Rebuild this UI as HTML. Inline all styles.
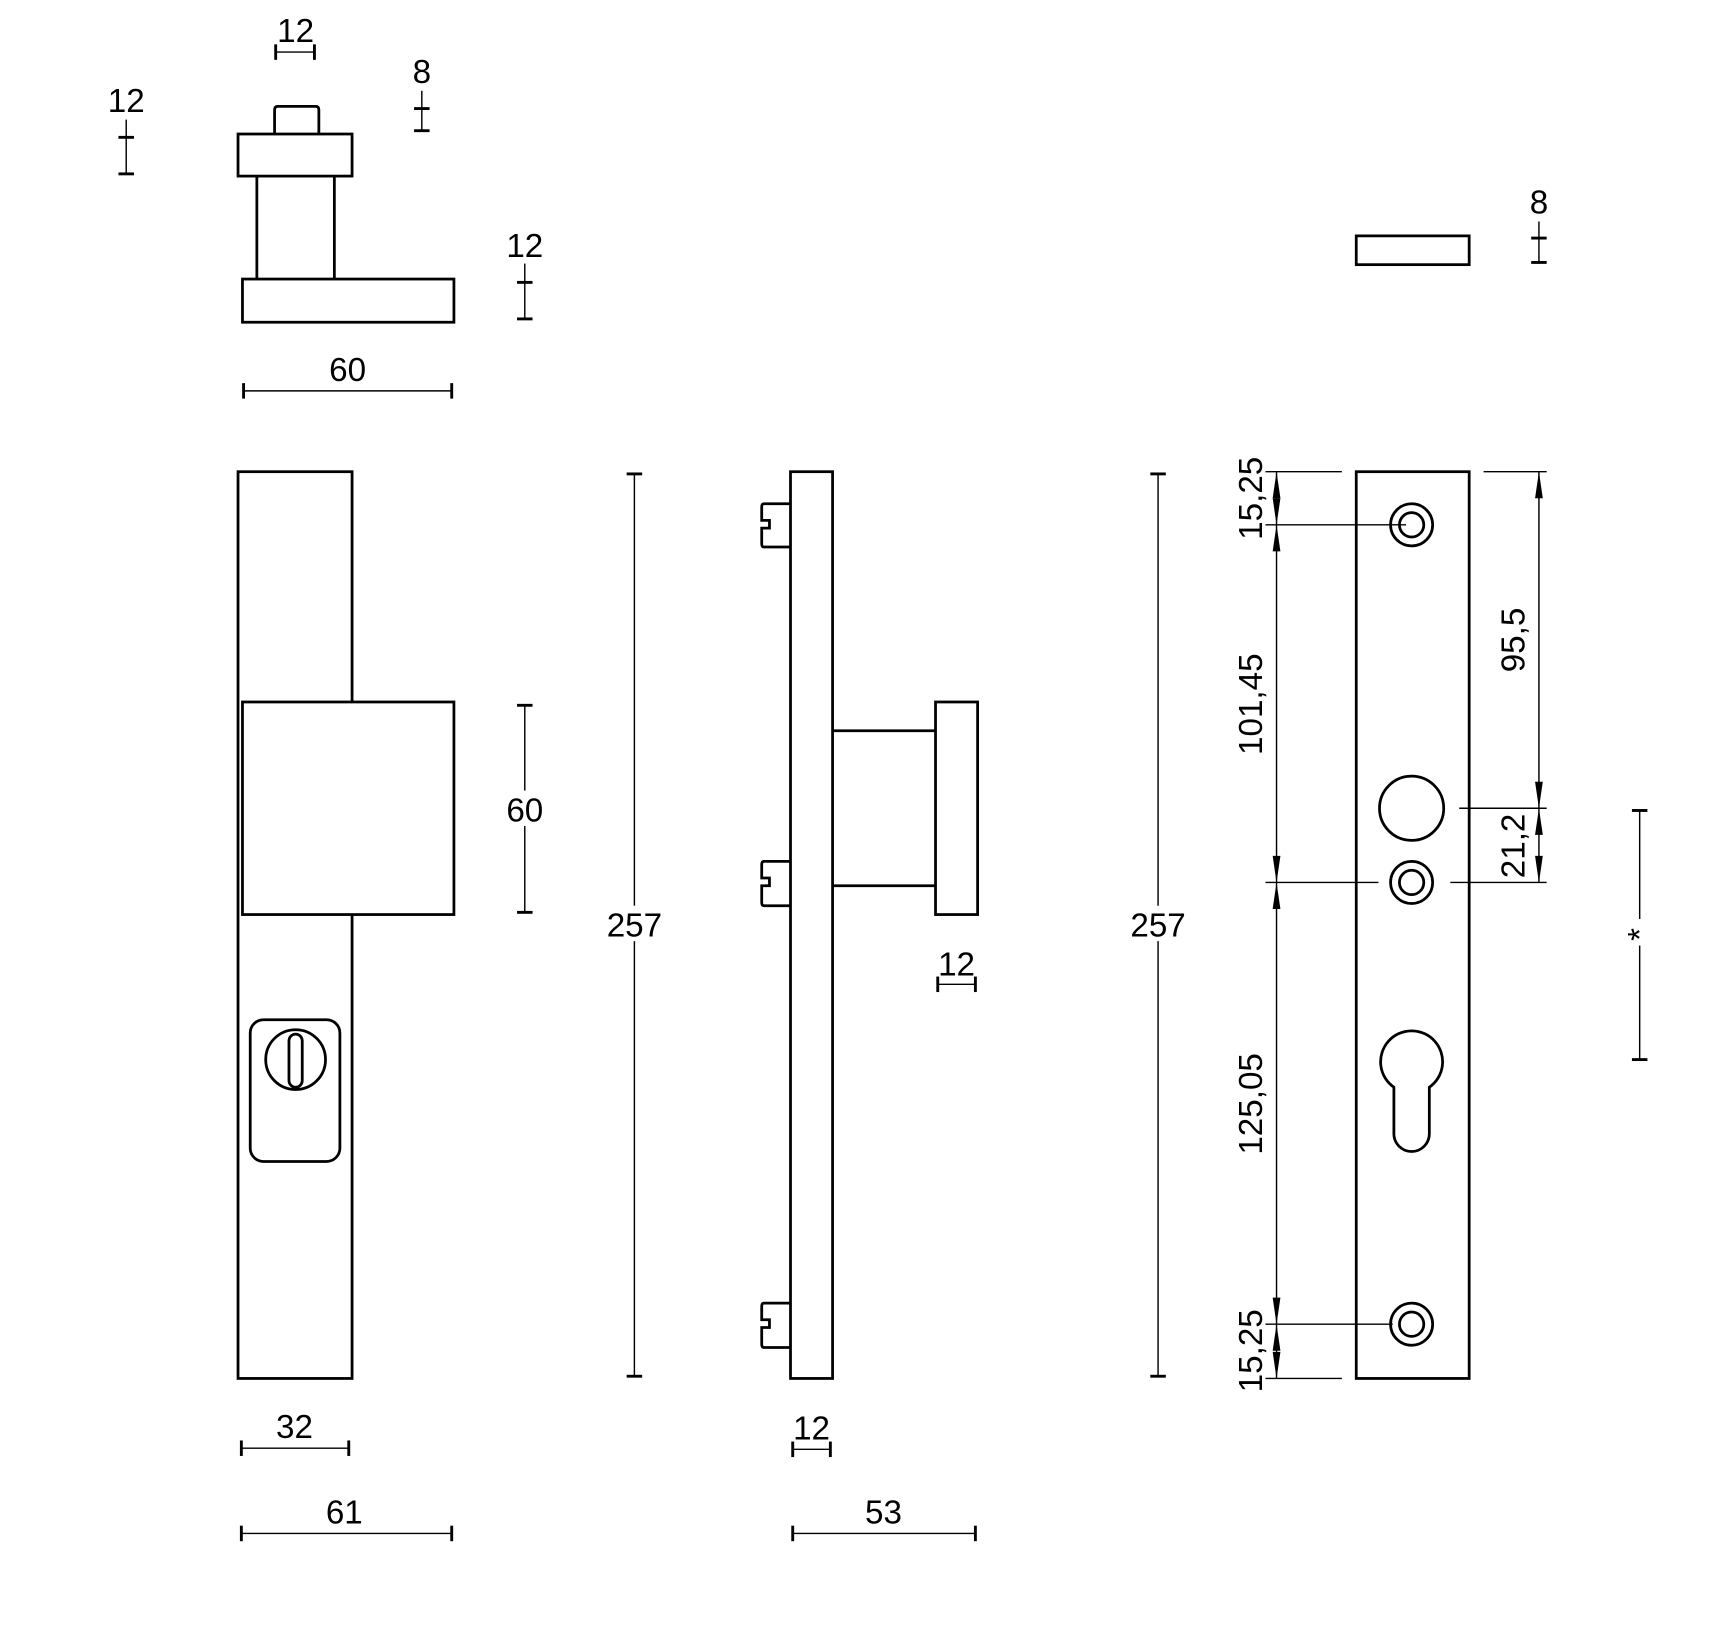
<!DOCTYPE html>
<html><head><meta charset="utf-8"><style>
html,body{margin:0;padding:0;background:#fff}
svg{display:block}
text{font-family:"Liberation Sans",sans-serif;font-size:30px;fill:#000;text-anchor:middle}
.o{fill:none;stroke:#000;stroke-width:2.5}
.w{fill:#fff;stroke:#000;stroke-width:2.5}
.d{fill:none;stroke:#000;stroke-width:1.3}
.t{stroke:#000;stroke-width:2.6}
</style></head><body>
<svg width="1736" height="1642" viewBox="0 0 1568 1483" xmlns="http://www.w3.org/2000/svg">
<defs>
<path id="au" d="M0,0 L-3.5,24 L3.5,24 Z"/>
<path id="ad" d="M0,0 L-3.5,-24 L3.5,-24 Z"/>
</defs>
<path class="o" d="M248,121 V99 Q248,96 251,96 H285 Q288,96 288,99 V121"/>
<rect class="o" x="215" y="121" width="103" height="38"/>
<line class="o" x1="232" y1="159" x2="232" y2="252"/>
<line class="o" x1="302" y1="159" x2="302" y2="252"/>
<rect class="o" x="219" y="252" width="191" height="39"/>
<text x="267" y="38">12</text>
<line class="d" x1="249" y1="47" x2="284" y2="47"/>
<line class="t" x1="249" y1="40" x2="249" y2="54"/><line class="t" x1="284" y1="40" x2="284" y2="54"/>
<text x="381" y="75">8</text>
<line class="d" x1="381" y1="82" x2="381" y2="118"/>
<line class="t" x1="374" y1="98" x2="388" y2="98"/><line class="t" x1="374" y1="118" x2="388" y2="118"/>
<text x="114" y="101">12</text>
<line class="d" x1="114" y1="108" x2="114" y2="157"/>
<line class="t" x1="107" y1="124" x2="121" y2="124"/><line class="t" x1="107" y1="157" x2="121" y2="157"/>
<text x="474" y="232">12</text>
<line class="d" x1="474" y1="238" x2="474" y2="288"/>
<line class="t" x1="467" y1="255" x2="481" y2="255"/><line class="t" x1="467" y1="288" x2="481" y2="288"/>
<text x="314" y="344">60</text>
<line class="d" x1="220" y1="353" x2="408" y2="353"/>
<line class="t" x1="220" y1="346" x2="220" y2="360"/><line class="t" x1="408" y1="346" x2="408" y2="360"/>

<rect class="o" x="215" y="426" width="103" height="819"/>
<rect class="w" x="219" y="634" width="191" height="192"/>
<rect class="o" x="226" y="921" width="81" height="128" rx="12"/>
<circle class="o" cx="267" cy="957" r="27"/>
<rect class="o" x="261" y="934" width="12" height="48" rx="6"/>
<line class="d" x1="474" y1="637" x2="474" y2="824"/>
<line class="t" x1="467" y1="637" x2="481" y2="637"/><line class="t" x1="467" y1="824" x2="481" y2="824"/>
<rect x="454" y="714" width="40" height="32" fill="#fff"/>
<text x="474" y="742">60</text>
<line class="d" x1="573" y1="428" x2="573" y2="1243"/>
<line class="t" x1="566" y1="428" x2="580" y2="428"/><line class="t" x1="566" y1="1243" x2="580" y2="1243"/>
<rect x="545" y="818" width="56" height="32" fill="#fff"/>
<text x="573" y="846">257</text>
<text x="266" y="1299">32</text>
<line class="d" x1="218" y1="1308" x2="315" y2="1308"/>
<line class="t" x1="218" y1="1301" x2="218" y2="1315"/><line class="t" x1="315" y1="1301" x2="315" y2="1315"/>
<text x="311" y="1376">61</text>
<line class="d" x1="218" y1="1385" x2="408" y2="1385"/>
<line class="t" x1="218" y1="1378" x2="218" y2="1392"/><line class="t" x1="408" y1="1378" x2="408" y2="1392"/>

<rect class="o" x="714" y="426" width="38" height="819"/>
<path class="o" d="M714,455 H690 Q688,455 688,458 V470 H695 V477 H688 V491 Q688,494 690,494 H714"/>
<path class="o" d="M714,778 H690 Q688,778 688,781 V793 H695 V800 H688 V815 Q688,818 690,818 H714"/>
<path class="o" d="M714,1177 H690 Q688,1177 688,1180 V1192 H695 V1199 H688 V1214 Q688,1217 690,1217 H714"/>
<line class="o" x1="752" y1="660" x2="845" y2="660"/>
<line class="o" x1="752" y1="800" x2="845" y2="800"/>
<rect class="o" x="845" y="634" width="38" height="192"/>
<text x="864" y="881">12</text>
<line class="d" x1="847" y1="889" x2="881" y2="889"/>
<line class="t" x1="847" y1="882" x2="847" y2="896"/><line class="t" x1="881" y1="882" x2="881" y2="896"/>
<text x="733" y="1300">12</text>
<line class="d" x1="716" y1="1309" x2="750" y2="1309"/>
<line class="t" x1="716" y1="1302" x2="716" y2="1316"/><line class="t" x1="750" y1="1302" x2="750" y2="1316"/>
<text x="798" y="1376">53</text>
<line class="d" x1="716" y1="1385" x2="881" y2="1385"/>
<line class="t" x1="716" y1="1378" x2="716" y2="1392"/><line class="t" x1="881" y1="1378" x2="881" y2="1392"/>
<line class="d" x1="1046" y1="428" x2="1046" y2="1243"/>
<line class="t" x1="1039" y1="428" x2="1053" y2="428"/><line class="t" x1="1039" y1="1243" x2="1053" y2="1243"/>
<rect x="1018" y="818" width="56" height="32" fill="#fff"/>
<text x="1046" y="846">257</text>

<rect class="o" x="1225" y="213" width="102" height="26"/>
<text x="1390" y="193">8</text>
<line class="d" x1="1390" y1="200" x2="1390" y2="238"/>
<line class="t" x1="1383" y1="215" x2="1397" y2="215"/><line class="t" x1="1383" y1="237" x2="1397" y2="237"/>
<rect class="o" x="1225" y="426" width="102" height="819"/>
<circle class="o" cx="1275" cy="474" r="19"/><circle class="o" cx="1275" cy="474" r="11"/>
<circle class="o" cx="1275" cy="797" r="19"/><circle class="o" cx="1275" cy="797" r="11"/>
<circle class="o" cx="1275" cy="1196" r="19"/><circle class="o" cx="1275" cy="1196" r="11"/>
<circle class="o" cx="1275" cy="730" r="29"/>
<path class="o" d="M1259,982 A28,28 0 1 1 1291,982 V1024 A16,16 0 0 1 1259,1024 Z"/>
<line class="d" x1="1143" y1="426" x2="1212" y2="426"/>
<line class="d" x1="1143" y1="474" x2="1270" y2="474"/>
<line class="d" x1="1143" y1="797" x2="1245" y2="797"/>
<line class="d" x1="1143" y1="1196" x2="1258" y2="1196"/>
<line class="d" x1="1143" y1="1245" x2="1212" y2="1245"/>
<line class="d" x1="1153" y1="426" x2="1153" y2="1245"/>
<use href="#au" x="1153" y="426"/><use href="#ad" x="1153" y="474"/><use href="#au" x="1153" y="474"/>
<use href="#ad" x="1153" y="797"/><use href="#au" x="1153" y="797"/>
<use href="#ad" x="1153" y="1196"/><use href="#au" x="1153" y="1196"/><use href="#ad" x="1153" y="1245"/>
<text transform="translate(1140,450) rotate(-90)">15,25</text>
<text transform="translate(1140,636) rotate(-90)">101,45</text>
<text transform="translate(1140,997) rotate(-90)">125,05</text>
<text transform="translate(1140,1220) rotate(-90)">15,25</text>
<line class="d" x1="1340" y1="426" x2="1397" y2="426"/>
<line class="d" x1="1318" y1="730" x2="1397" y2="730"/>
<line class="d" x1="1310" y1="797" x2="1397" y2="797"/>
<line class="d" x1="1390" y1="426" x2="1390" y2="797"/>
<use href="#au" x="1390" y="426"/><use href="#ad" x="1390" y="730"/><use href="#au" x="1390" y="730"/><use href="#ad" x="1390" y="797"/>
<text transform="translate(1377,578) rotate(-90)">95,5</text>
<text transform="translate(1377,764) rotate(-90)">21,2</text>
<line class="d" x1="1481" y1="732" x2="1481" y2="957"/>
<line class="t" x1="1474" y1="732" x2="1488" y2="732"/><line class="t" x1="1474" y1="957" x2="1488" y2="957"/>
<rect x="1470" y="830" width="22" height="24" fill="#fff"/>
<text transform="translate(1491,844) rotate(-90)">*</text>
</svg>
</body></html>
